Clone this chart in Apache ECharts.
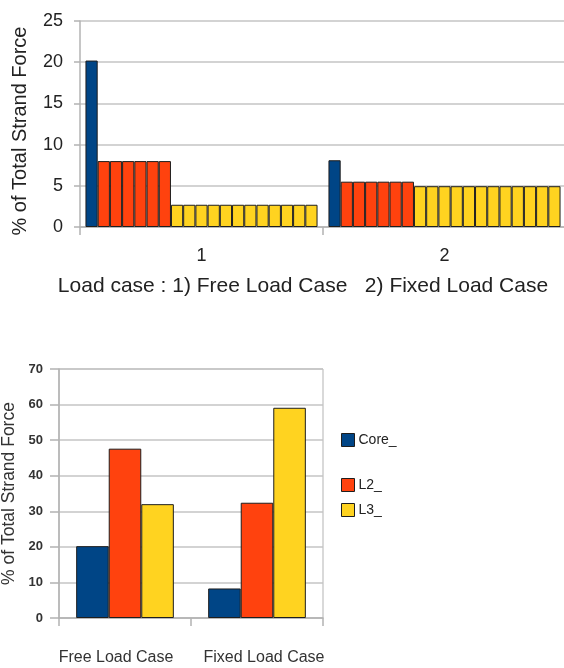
<!DOCTYPE html>
<html><head><meta charset="utf-8">
<script src="https://cdn.jsdelivr.net/npm/echarts@6/dist/echarts.min.js"></script>
<style>html,body{margin:0;padding:0;background:#fff}#c{width:564px;height:668px}</style>
</head><body><div id="c"></div>
<script>
// ---- Data ----
const topCategories = ['1', '2'];
const topCore = [20.2, 8.1];      // % per core strand
const topL2 = [8.0, 5.5];         // % per L2 strand
const topL3 = [2.7, 4.95];        // % per L3 strand
const l2StrandCount = 6;
const l3StrandCount = 12;
const topYTicks = { min: 0, max: 25, interval: 5 };

const bottomCategories = ['Free Load Case', 'Fixed Load Case'];
const bottomCore = [20.2, 8.3];
const bottomL2 = [47.6, 32.4];
const bottomL3 = [32.0, 59.1];
const bottomYTicks = { min: 0, max: 70, interval: 10 };
const legendNames = ['Core_', 'L2_', 'L3_'];

// ---- Styles ----
const C_CORE = '#004586', C_L2 = '#ff420e', C_L3 = '#ffd320';
const BORDER = '#1e1e1e', GRID = '#c4c4c4', AXIS = '#b3b3b3';
const FONT = 'Liberation Sans';

const series = [];
function topBar(name, data, color) {
  series.push({
    type: 'bar', name: name, xAxisIndex: 0, yAxisIndex: 0, data: data,
    barGap: '0%', barCategoryGap: '4.5%',
    itemStyle: { color: color, borderColor: BORDER, borderWidth: 1 },
    emphasis: { disabled: true }
  });
}
topBar('Core', topCore, C_CORE);
for (let i = 0; i < l2StrandCount; i++) topBar('L2 ' + (i + 1), topL2, C_L2);
for (let i = 0; i < l3StrandCount; i++) topBar('L3 ' + (i + 1), topL3, C_L3);

function botBar(name, data, color) {
  series.push({
    type: 'bar', name: name, xAxisIndex: 1, yAxisIndex: 1, data: data,
    barGap: '0%', barCategoryGap: '26%',
    itemStyle: { color: color, borderColor: BORDER, borderWidth: 1 },
    emphasis: { disabled: true }
  });
}
botBar(legendNames[0], bottomCore, C_CORE);
botBar(legendNames[1], bottomL2, C_L2);
botBar(legendNames[2], bottomL3, C_L3);

const legendCommon = {
  orient: 'vertical', left: 341, padding: 0, itemWidth: 13, itemHeight: 13, itemGap: 11,
  icon: 'rect', selectedMode: false,
  itemStyle: { borderColor: BORDER, borderWidth: 1 },
  textStyle: { fontFamily: FONT, fontSize: 14, color: '#222', padding: [3, 0, 0, -1] }
};

const option = {
  animation: false,
  textStyle: { fontFamily: FONT },
  legend: [
    Object.assign({}, legendCommon, { top: 433, data: [legendNames[0]] }),
    Object.assign({}, legendCommon, { top: 478, data: [legendNames[1], legendNames[2]] })
  ],
  grid: [
    { left: 80, top: 21, width: 486, height: 206, outerBoundsMode: 'none', containLabel: false },
    { left: 59, top: 369, width: 264, height: 249, outerBoundsMode: 'none', containLabel: false,
      show: true, borderColor: AXIS, borderWidth: 1, backgroundColor: 'transparent' }
  ],
  xAxis: [
    {
      type: 'category', gridIndex: 0, data: topCategories,
      axisLine: { lineStyle: { color: AXIS, width: 1.5 } },
      axisTick: { show: true, length: 8, lineStyle: { color: AXIS, width: 1.5 } },
      axisLabel: { fontSize: 18, color: '#222', margin: 20 },
      name: 'Load case : 1) Free Load Case   2) Fixed Load Case',
      nameLocation: 'middle', nameGap: 49,
      nameTextStyle: { fontSize: 21, color: '#222', padding: [0, 40, 0, 0] }
    },
    {
      type: 'category', gridIndex: 1, data: bottomCategories,
      axisLine: { lineStyle: { color: AXIS, width: 1.5 } },
      axisTick: { show: true, length: 8, lineStyle: { color: AXIS, width: 1.5 } },
      axisLabel: {
        interval: 0, margin: 32, color: '#333', hideOverlap: false,
        formatter: function (v) { return v === bottomCategories[0] ? '{a|' + v + '}' : '{b|' + v + '}'; },
        rich: {
          a: { fontSize: 16, color: '#333', padding: [0, 18, 0, 0] },
          b: { fontSize: 16, color: '#333', padding: [0, 0, 0, 14] }
        }
      }
    }
  ],
  yAxis: [
    {
      type: 'value', gridIndex: 0, min: topYTicks.min, max: topYTicks.max, interval: topYTicks.interval,
      axisLine: { show: true, lineStyle: { color: AXIS, width: 1.5 } },
      axisTick: { show: true, length: 6, lineStyle: { color: AXIS, width: 1.5 } },
      splitLine: { lineStyle: { color: GRID, width: 1.5 } },
      axisLabel: { fontSize: 18, color: '#222', margin: 17 },
      name: '% of Total Strand Force', nameLocation: 'middle', nameGap: 50,
      nameTextStyle: { fontSize: 20, color: '#222', padding: [0, 14, 0, 0] }
    },
    {
      type: 'value', gridIndex: 1, min: bottomYTicks.min, max: bottomYTicks.max, interval: bottomYTicks.interval,
      axisLine: { show: true, lineStyle: { color: AXIS, width: 1.5 } },
      axisTick: { show: true, length: 9, lineStyle: { color: AXIS, width: 1.5 } },
      splitLine: { lineStyle: { color: GRID, width: 1.5 } },
      axisLabel: { fontSize: 13, fontWeight: 'bold', color: '#333', margin: 16 },
      name: '% of Total Strand Force', nameLocation: 'middle', nameGap: 41,
      nameTextStyle: { fontSize: 17.5, color: '#333' }
    }
  ],
  series: series
};
const chart = echarts.init(document.getElementById('c'), null, { renderer: 'canvas' });
chart.setOption(option);
</script></body></html>
